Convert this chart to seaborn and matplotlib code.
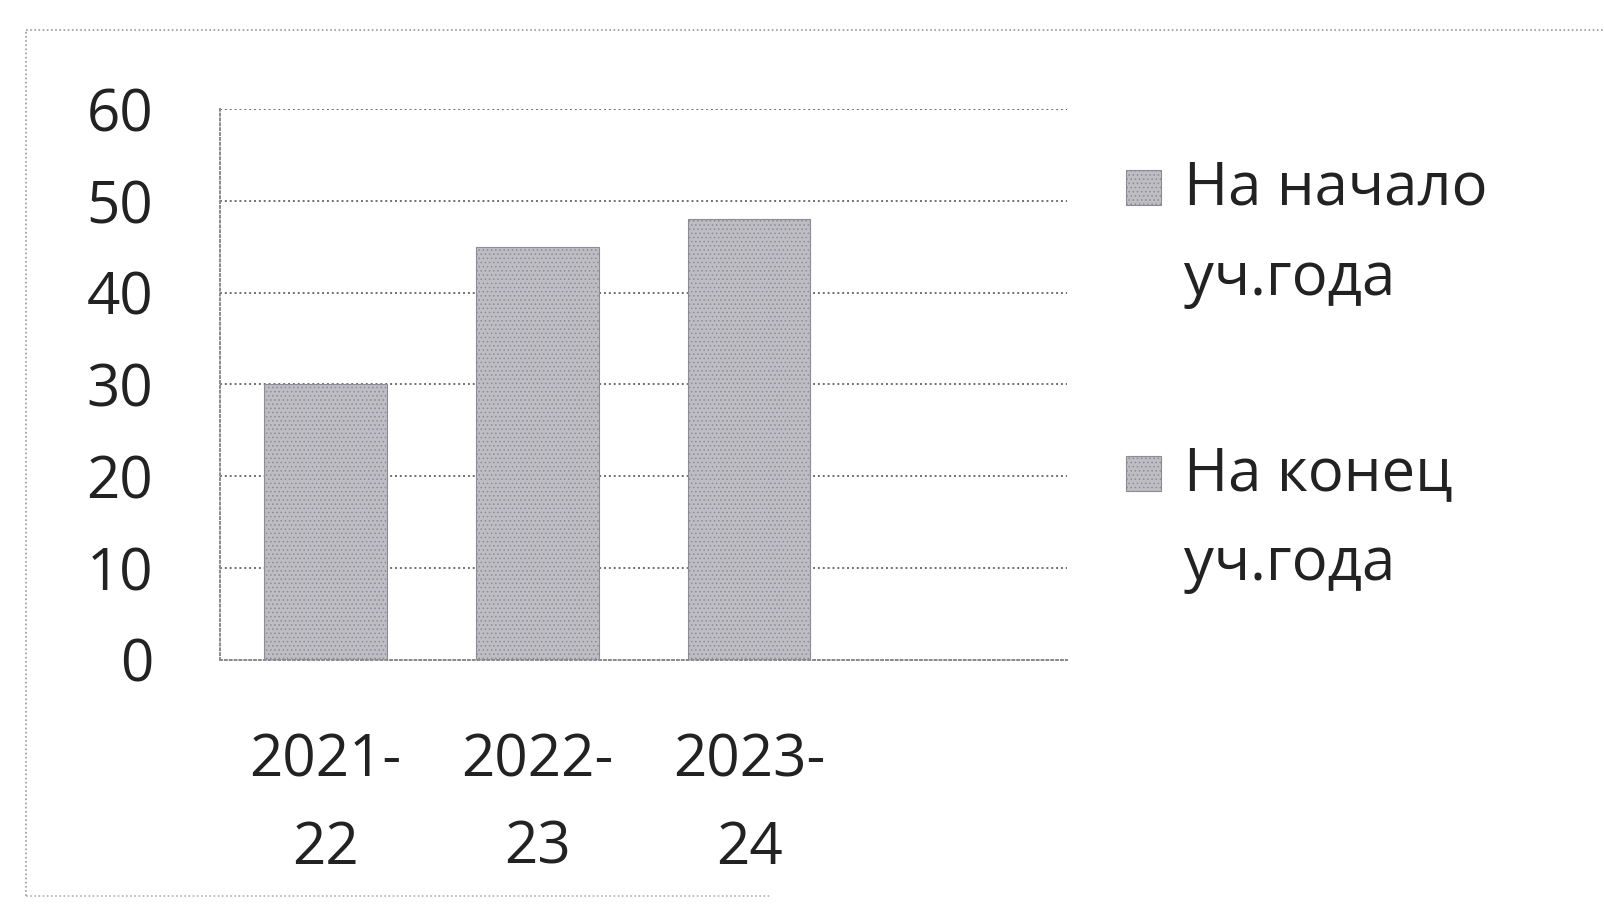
import pandas as pd
import seaborn as sns
import matplotlib.pyplot as plt
import matplotlib.patches as mpatches
from matplotlib.lines import Line2D

sns.set_theme(style="white")
plt.rcParams['font.family'] = ['Open Sans', 'DejaVu Sans']
plt.rcParams['hatch.linewidth'] = 0.6

# data
years = ["2021-\n22", "2022-\n23", "2023-\n24"]
start_of_year = [30, 45, 48]
series_names = ["На начало\nуч.года", "На конец\nуч.года"]
y_ticks = [0, 10, 20, 30, 40, 50, 60]

df = pd.DataFrame({"year": years, "value": start_of_year})

bar_color = "#bdbdc3"
edge_color = "#8c8c94"

fig = plt.figure(figsize=(16.04, 9.24), dpi=100)
ax = fig.add_axes([0.137, 0.286, 0.528, 0.596])

sns.barplot(data=df, x="year", y="value", order=years, color=bar_color,
            width=0.58, saturation=1, ax=ax)
for p in ax.patches:
    p.set_hatch("....")
    p.set_edgecolor(edge_color)
    p.set_linewidth(0.8)

ax.set_xlim(-0.5, 3.5)
ax.set_ylim(0, 60)
ax.set_yticks(y_ticks)
ax.set_xticks(range(len(years)))
ax.set_xticklabels(years)
ax.set_xlabel("")
ax.set_ylabel("")
ax.set_axisbelow(True)
ax.yaxis.grid(True, linestyle=(0, (1, 1.5)), color="#6f6f6f", linewidth=1.4)
ax.xaxis.grid(False)

# category boundaries get the small ticks, like the original axis
ax.set_xticks([-0.5, 0.5, 1.5, 2.5, 3.5], minor=True)
ax.tick_params(axis="x", which="major", length=0, labelsize=42, pad=52, colors="#222222")
ax.tick_params(axis="x", which="minor", length=8, width=1, color="#999999", direction="out")
ax.tick_params(axis="y", which="major", length=8, width=1, color="#999999", labelsize=42,
               pad=40, colors="#222222", direction="out")
for lab in ax.get_xticklabels():
    lab.set_linespacing(1.65)

for side in ["top", "right"]:
    ax.spines[side].set_visible(False)
for side in ["left", "bottom"]:
    ax.spines[side].set_linestyle((0, (1, 1.5)))
    ax.spines[side].set_color("#8a8a8a")
    ax.spines[side].set_linewidth(1.4)

# legend: square sits beside the first line of each two-line label
leg_x = 0.702
leg_y = [0.797, 0.488]
for name, y in zip(series_names, leg_y):
    fig.add_artist(mpatches.Rectangle((leg_x, y - 0.019), 0.022, 0.038,
                                      transform=fig.transFigure, facecolor=bar_color,
                                      edgecolor=edge_color, hatch="....", linewidth=0.8))
    fig.text(leg_x + 0.036, y + 0.031, name, fontsize=43, color="#222222",
             va="top", linespacing=1.65, transform=fig.transFigure)

# scanned frame around the chart
fig.add_artist(Line2D([0.016, 1.0], [0.968, 0.968], transform=fig.transFigure,
                      color="#9a9a9a", linestyle=(0, (1, 1.5)), linewidth=1.2))
fig.add_artist(Line2D([0.016, 0.016], [0.03, 0.968], transform=fig.transFigure,
                      color="#9a9a9a", linestyle=(0, (1, 1.5)), linewidth=1.2))
fig.add_artist(Line2D([0.016, 0.48], [0.03, 0.03], transform=fig.transFigure,
                      color="#b0b0b0", linestyle=(0, (1, 1.5)), linewidth=1.2))

fig.savefig("out.png", dpi=100)
